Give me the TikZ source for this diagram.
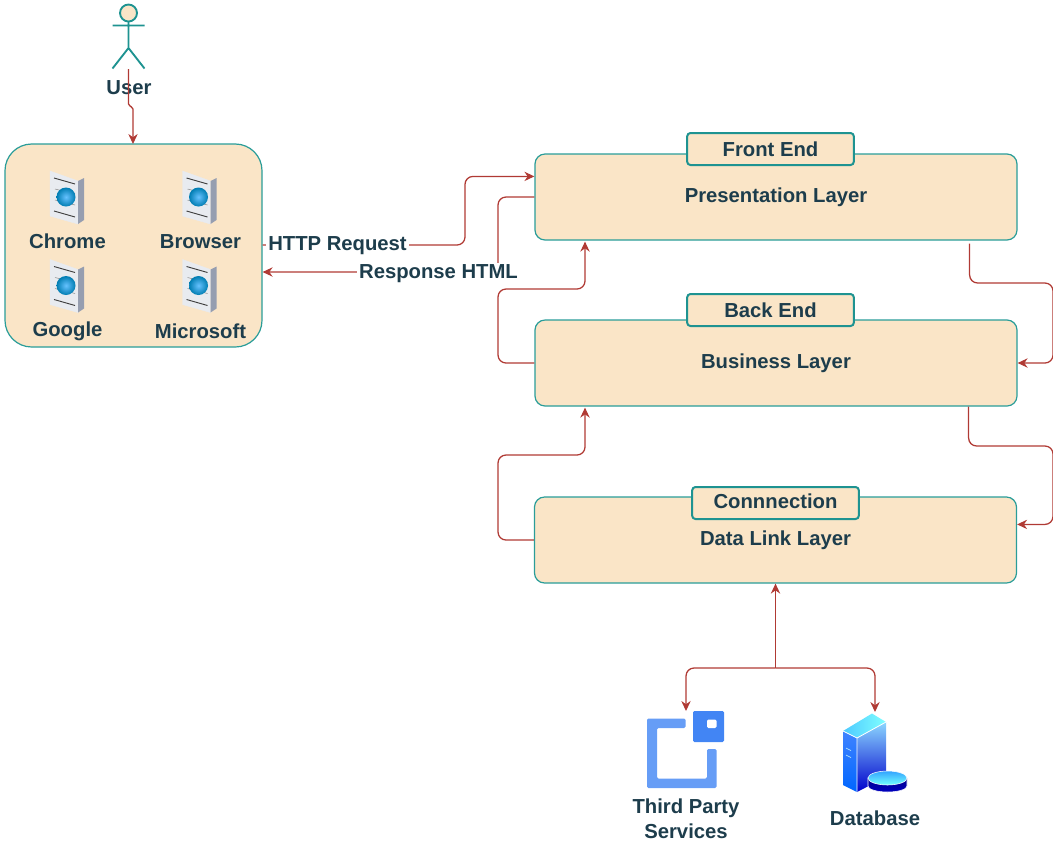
\documentclass[tikz,border=0pt]{standalone}
\usepackage{fontspec}
\setmainfont{Liberation Sans}
\usetikzlibrary{arrows.meta,calc}
\definecolor{boxfill}{HTML}{FAE5C7}
\definecolor{boxline}{HTML}{2A9D99}
\definecolor{tabline}{HTML}{1E9391}
\definecolor{wire}{HTML}{B03A34}
\definecolor{ink}{HTML}{1D3D4C}
\tikzset{
  lbl/.style={font=\fontsize{15.2}{18.6}\selectfont\bfseries,text=ink,inner sep=0pt,align=center},
  layer/.style={draw=boxline,fill=boxfill,line width=0.9pt,rounded corners=7.5pt,minimum width=361.5pt,minimum height=64.5pt,lbl},
  tabbox/.style={draw=tabline,fill=boxfill,line width=1.5pt,rounded corners=2.5pt,minimum width=125pt,minimum height=24pt,lbl},
  wireline/.style={draw=wire,line width=0.95pt,rounded corners=6pt},
  tip/.style={-{Stealth[length=7.5pt,width=7pt]}},
  docicon/.pic={
    \fill[draw=gray!45,line width=0.3pt,color={rgb,255:red,232;green,235;blue,240}] (-16,-26) -- (12,-16) -- (12,27) -- (-16,19) -- cycle;
    \fill[color={rgb,255:red,150;green,158;blue,176}] (12,-16) -- (18,-19) -- (18,23) -- (12,27) -- cycle;
    \draw[black!75,line width=0.7pt] (-12,-19) -- (9,-13) (-12,14) -- (9,20);
    \draw[black!45,line width=0.4pt] (-11,-8) -- (9,-3) (-11,3) -- (9,8);
    \shade[shading=radial,inner color=cyan!60!blue!60!white,outer color=blue!30!cyan!70!black] (0,0) circle[radius=9.5];
  }
}
\begin{document}
\begin{tikzpicture}[x=0.75pt,y=-0.75pt]
\useasboundingbox (0,0) rectangle (1053,844);

% user actor
\draw[fill=boxfill,draw=tabline,line width=1.4pt] (128.5,13) circle[radius=8.5];
\draw[tabline,line width=1.4pt] (128.5,21.5) -- (128.5,48) (112.5,25.5) -- (144.5,25.5) (112.5,68.5) -- (128.5,48) -- (144.5,68.5);
\node[lbl] (user) at (129,87.5) {User};
\coordinate (userfoot) at (128.5,69);

% browser group
\node[draw=boxline,fill=boxfill,line width=0.9pt,rounded corners=20pt,minimum width=192.75pt,minimum height=152.25pt] (browser) at (133.5,245.5) {};
\pic at (66,197) {docicon};
\pic at (198.5,197) {docicon};
\pic at (66,285.5) {docicon};
\pic at (198.5,285.5) {docicon};
\node[lbl] (chrome) at (67.5,241.5) {Chrome};
\node[lbl] (browserlbl) at (200.5,241.5) {Browser};
\node[lbl] (google) at (67.5,331.5) {Google};
\node[lbl] (microsoft) at (200.5,331) {Microsoft};

% layers
\node[layer] (pres) at (776,197) {Presentation Layer};
\node[layer] (busi) at (776,363) {Business Layer};
\node[layer] (data) at (775.5,540) {Data Link Layer};

% connector ends
\coordinate (presout) at ($(pres.south east)+(-48,3)$);
\coordinate (busiout) at ($(busi.south east)+(-49,0)$);
\coordinate (presin) at ($(pres.north west)+(0,23)$);
\coordinate (busiup) at ($(busi.south)+(-191,1)$);
\coordinate (presup) at ($(pres.south)+(-191,1)$);
\coordinate (dataright) at ($(data.north east)+(0,28)$);
\coordinate (third) at (686,711);
\coordinate (dbase) at (875,712);

% connectors
\draw[wireline,rounded corners=1.5pt,tip] (userfoot) -- (128.5,106) -- (133,107) -- (133,144);
\draw[wireline,tip] (browser.east |- 0,245) -- (465,245) -- (465,0 |- presin) -- (presin);
\draw[wireline,tip] (pres.west) -- (498,197) -- (498,272) -- (browser.east |- 0,272);
\draw[wireline,tip] (busi.west) -- (498,363) -- (498,289) -- (presup |- 0,289) -- (presup);
\draw[wireline,tip] (data.west) -- (498,540) -- (498,455) -- (busiup |- 0,455) -- (busiup);
\draw[wireline,tip] (presout) -- (presout |- 0,283) -- (1053,283) -- (1053,0 |- busi.east) -- (busi.east);
\draw[wireline,tip] (busiout) -- (busiout |- 0,446) -- (1053,446) -- (1053,0 |- dataright) -- (dataright);
\draw[wire,line width=0.95pt,tip] (data.south |- 0,668) -- (data.south);
\draw[wireline,tip] (data.south |- 0,668) -- (686,668) -- (third);
\draw[wireline,tip] (data.south |- 0,668) -- (875,668) -- (dbase);

% connector labels
\node[lbl,fill=white,inner xsep=1.5pt,inner ysep=1.5pt] (req) at (337.5,246) {HTTP Request};
\node[lbl,fill=white,inner xsep=1.5pt,inner ysep=1.5pt] (resp) at (438.5,274) {Response HTML};

% tabs
\node[tabbox] (front) at (770.5,149) {Front End};
\node[tabbox] (back) at (770.5,310) {Back End};
\node[tabbox] (conn) at (775.5,503) {};
\node[lbl] (connlbl) at (775.5,501.5) {Connnection};

% third party icon
\fill[rounded corners=1pt,color={rgb,255:red,102;green,157;blue,246}]
  (647,718.5) -- (685.5,718.5) -- (685.5,728) -- (657,728) -- (657,778.5) -- (707,778.5) -- (707,749) -- (716.5,749) -- (716.5,788) -- (647,788) -- cycle;
\fill[rounded corners=1pt,color={rgb,255:red,66;green,133;blue,244}] (693,711) rectangle (724,742);
\fill[white,rounded corners=1pt] (707,719.5) rectangle (716.5,728);
\node[lbl] (tplbl) at (686,819) {Third Party\\Services};

% database icon
\shade[bottom color=blue!80!black,top color=blue!35!cyan!45!white] (857,738) -- (886,722) -- (886,777) -- (857,792) -- cycle;
\shade[bottom color=blue!60!cyan,top color=cyan!35!blue!75!white] (843,731) -- (857,738) -- (857,792) -- (843,785) -- cycle;
\shade[left color=cyan!70!blue!70,right color=cyan!50!white] (843,731) -- (872,713.5) -- (886,722) -- (857,738) -- cycle;
\draw[white,line width=0.6pt] (843,731) -- (857,738) -- (886,722) (857,738) -- (857,792);
\draw[white!70!cyan,line width=0.5pt] (846,748) -- (851,750.5) (846,755) -- (851,757.5);
\shade[top color=blue!55!black,bottom color=blue!75!black,draw=white,line width=0.4pt] (868,778) -- (868,786) arc[start angle=180,end angle=0,x radius=19.5,y radius=6] -- (907,778) -- cycle;
\shade[top color=cyan!55!blue!80,bottom color=cyan!55!white,draw=white,line width=0.4pt] (887.5,778) ellipse[x radius=19.5,y radius=7];
\node[lbl] (dblbl) at (875,818.5) {Database};
\end{tikzpicture}
\end{document}
